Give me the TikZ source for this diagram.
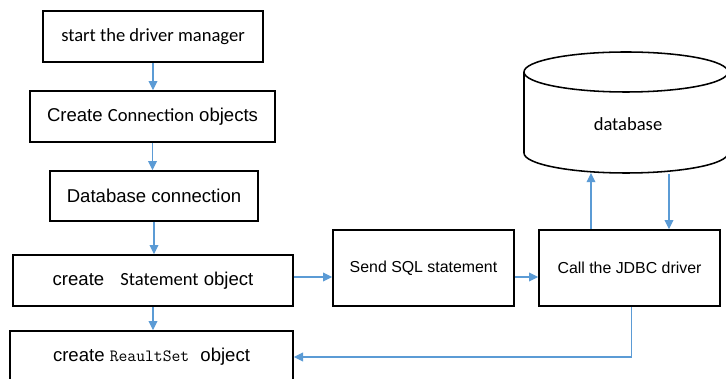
\documentclass[tikz,border=0pt]{standalone}
\usepackage{fontspec}
\setmainfont{Liberation Sans}
\newfontfamily\calfont{Carlito}
\usetikzlibrary{arrows.meta}
\definecolor{flowblue}{HTML}{5B9BD5}

\begin{document}
\begin{tikzpicture}[x=0.025cm, y=-0.025cm,
        box/.style={draw, line width=1.1pt, inner sep=0pt, minimum height=1.275cm,
            font=\fontsize{13.2}{16}\selectfont},
        sidebox/.style={box, minimum width=4.525cm, minimum height=1.9cm,
            font=\fontsize{11.3}{14}\selectfont},
        flow/.style={flowblue, line width=0.8pt, -{Triangle[length=0.23cm, width=0.22cm]}}]
        \useasboundingbox (0,0) rectangle (726,379);
        % Draw the steps on the left
        \node[box, minimum width=5.5cm] (start) at (153,36.5) {\calfont start the driver manager};
        \node[box, minimum width=6.125cm] (conn) at (152.5,116.5) {Create {\calfont Connection} objects};
        \node[box, minimum width=5.2cm, minimum height=1.25cm] (dbconn) at (154,196) {Database connection};
        \node[box, minimum width=7cm] (stmt) at (153,280.5) {create\hspace{0.4cm}{\calfont Statement} object};
        \node[box, minimum width=7.075cm, minimum height=1.3cm] (result) at (151.5,357)
            {create {\fontsize{12.2}{14}\selectfont\ttfamily ReaultSet}\hspace{0.15cm} object};
        % Draw the steps on the right
        \node[sidebox] (send) at (423.5,268) {Send SQL statement};
        \node[sidebox] (jdbc) at (629.5,268) {Call the JDBC driver};
        % Draw the database
        \draw[line width=1.1pt] (626,72) ellipse [x radius=102, y radius=20];
        \draw[line width=1.1pt] (524,72) -- (524,153) arc [start angle=180, end angle=0, x radius=102, y radius=20] -- (728,72);
        \node[font=\fontsize{13.2}{16}\selectfont\calfont] (db) at (628,124) {database};
        \coordinate (dbup) at (591,173);
        \coordinate (dbdown) at (669,174);
        \coordinate (mid) at (0,277);
        % Draw the arrows
        \draw[flow] (start.south) -- (start.south |- conn.north);
        \draw[flow] (conn.south) -- (conn.south |- dbconn.north);
        \draw[flow] (dbconn.south) -- (dbconn.south |- stmt.north);
        \draw[flow] (stmt.south) -- (stmt.south |- result.north);
        \draw[flow] (stmt.east |- mid) -- (send.west |- mid);
        \draw[flow] (send.east |- mid) -- (jdbc.west |- mid);
        \draw[flow] (jdbc.north -| dbup) -- (dbup);
        \draw[flow] (dbdown) -- (jdbc.north -| dbdown);
        \draw[flow] ([xshift=0.06cm]jdbc.south) |- (result.east);
    \end{tikzpicture}
\end{document}
